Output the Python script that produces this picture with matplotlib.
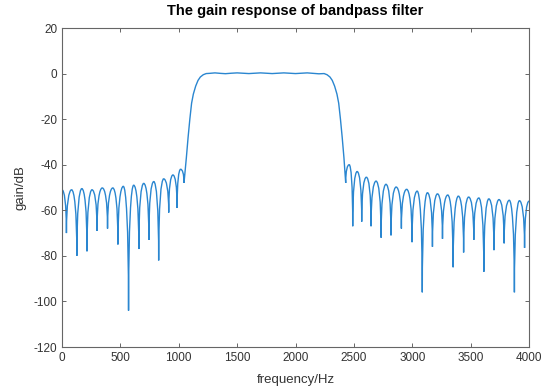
import matplotlib
matplotlib.use('Agg')
import matplotlib.pyplot as plt
from matplotlib.path import Path
from matplotlib.patches import PathPatch

# stopband below the passband: lobe peaks and nulls (Hz, dB)
peak_l_f = [0, 82, 170, 257, 345, 435, 525, 614, 700, 786, 871, 950, 1016]
peak_l_db = [-51, -51, -50.5, -51, -50.2, -50.2, -49.5, -49, -48.2, -47.4, -46.2, -44.5, -42]
null_l_f = [38, 127, 214, 300, 390, 479, 570, 658, 744, 828, 914, 986, 1045]
null_l_db = [-70, -80, -78, -69, -68, -75, -104, -77, -73, -82, -61, -59, -48]

# rising edge, passband, falling edge
edge_up_f = [1065, 1080, 1095, 1110, 1125, 1145, 1165, 1185, 1210, 1235]
edge_up_db = [-37, -28, -20, -13, -9, -5.5, -3, -1.5, -0.5, 0]
pass_f = [1265, 1310, 1355, 1400, 1450, 1500, 1550, 1600, 1650, 1700, 1750,
          1800, 1850, 1900, 1950, 2000, 2050, 2100, 2150, 2200, 2245]
pass_db = [0.1, 0.3, 0.1, -0.05, 0.15, 0.3, 0.15, 0.0, 0.15, 0.3, 0.15,
           0.0, 0.15, 0.3, 0.15, 0.0, 0.15, 0.3, 0.1, -0.1, 0]
edge_dn_f = [2270, 2295, 2315, 2335, 2355, 2370, 2385, 2400, 2415]
edge_dn_db = [-0.5, -1.5, -3, -5.5, -9, -13, -20, -28, -37]

# stopband above the passband
null_r_f = [2430, 2490, 2567, 2647, 2733, 2818, 2907, 2998, 3086, 3173,
            3259, 3350, 3440, 3527, 3613, 3700, 3787, 3875, 3962]
null_r_db = [-48, -67, -65, -67, -72, -71, -68, -74, -96, -76,
             -72.5, -85, -78.5, -73, -87, -77.5, -74.5, -96, -76.5]
peak_r_f = [2460, 2528, 2607, 2690, 2775, 2862, 2952, 3042, 3130, 3216,
            3304, 3395, 3483, 3570, 3656, 3743, 3831, 3918, 4000]
peak_r_db = [-40, -43, -45.5, -47.2, -48.6, -49.8, -50.8, -51.6, -52.3, -52.8,
             -53.3, -53.8, -54.2, -54.6, -55, -55.3, -55.6, -55.8, -56]

# ordered list of points along the curve
pts = []
for i in range(len(peak_l_f)):
    pts.append((peak_l_f[i], peak_l_db[i], 'peak'))
    pts.append((null_l_f[i], null_l_db[i], 'null'))
for f, g in zip(edge_up_f + pass_f + edge_dn_f, edge_up_db + pass_db + edge_dn_db):
    pts.append((f, g, 'pt'))
for i in range(len(null_r_f)):
    pts.append((null_r_f[i], null_r_db[i], 'null'))
    pts.append((peak_r_f[i], peak_r_db[i], 'peak'))

# lobes as bezier arches, the rest as straight segments
verts = [(pts[0][0], pts[0][1])]
codes = [Path.MOVETO]
for a, b in zip(pts[:-1], pts[1:]):
    if a[2] == 'peak' and b[2] == 'null':
        d = a[1] - b[1]
        verts += [(a[0] + 0.5 * (b[0] - a[0]), a[1]), (b[0], a[1] - 0.3 * d), (b[0], b[1])]
        codes += [Path.CURVE4] * 3
    elif a[2] == 'null' and b[2] == 'peak':
        d = b[1] - a[1]
        verts += [(a[0], b[1] - 0.3 * d), (b[0] - 0.5 * (b[0] - a[0]), b[1]), (b[0], b[1])]
        codes += [Path.CURVE4] * 3
    else:
        verts.append((b[0], b[1]))
        codes.append(Path.LINETO)

plt.rcParams['font.family'] = ['Liberation Sans', 'DejaVu Sans']
plt.rcParams['axes.unicode_minus'] = False

fig = plt.figure(figsize=(5.45, 3.92), dpi=100)
ax = fig.add_axes([62 / 545, 1 - 347 / 392, (529 - 62) / 545, (347 - 28) / 392])
ax.add_patch(PathPatch(Path(verts, codes), fill=False, edgecolor='#2a86d0', lw=1.0))

ax.set_xlim(0, 4000)
ax.set_ylim(-120, 20)
ax.set_xticks(range(0, 4001, 500))
ax.set_yticks(range(-120, 21, 20))
ax.tick_params(direction='in', top=True, right=True, length=3, width=0.7,
               colors='#666666', labelcolor='#333333', labelsize=8.5)
for s in ax.spines.values():
    s.set_color('#666666')
    s.set_linewidth(0.8)

ax.set_xlabel('frequency/Hz', fontsize=9.5, color='#333333', labelpad=7)
ax.set_ylabel('gain/dB', fontsize=9.5, color='#333333', labelpad=5)
ax.set_title('The gain response of bandpass filter', fontsize=10.5, fontweight='bold', pad=9)

fig.savefig('out.png', dpi=100)
